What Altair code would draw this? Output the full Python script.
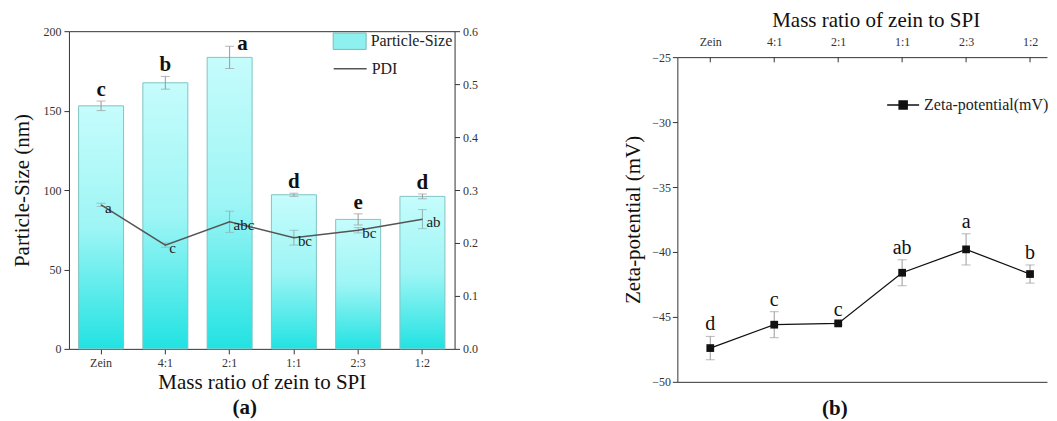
import altair as alt
import pandas as pd

categories = ["Zein", "4:1", "2:1", "1:1", "2:3", "1:2"]
particle_size = [153.0, 167.5, 183.5, 97.0, 81.5, 96.0]
particle_size_err = [3.0, 4.0, 7.0, 1.0, 3.5, 1.5]
size_letters = ["c", "b", "a", "d", "e", "d"]
pdi = [0.272, 0.196, 0.240, 0.210, 0.224, 0.245]
pdi_err = [0.003, 0.004, 0.020, 0.014, 0.005, 0.018]
pdi_letters = ["a", "c", "abc", "bc", "bc", "ab"]
zeta = [-47.4, -45.6, -45.5, -41.6, -39.8, -41.7]
zeta_err = [0.9, 1.0, 0.1, 1.0, 1.2, 0.7]
zeta_letters = ["d", "c", "c", "ab", "a", "b"]

FONT = "Liberation Serif"
AX = "#333333"

df = pd.DataFrame({
    "cat": categories,
    "size": particle_size,
    "size_lo": [v - e for v, e in zip(particle_size, particle_size_err)],
    "size_hi": [v + e for v, e in zip(particle_size, particle_size_err)],
    "size_letter": size_letters,
    "pdi": pdi,
    "pdi_lo": [v - e for v, e in zip(pdi, pdi_err)],
    "pdi_hi": [v + e for v, e in zip(pdi, pdi_err)],
    "pdi_letter": pdi_letters,
    "zeta": zeta,
    "zeta_lo": [v - e for v, e in zip(zeta, zeta_err)],
    "zeta_hi": [v + e for v, e in zip(zeta, zeta_err)],
    "zeta_letter": zeta_letters,
    "ps_series": ["Particle-Size"] * len(categories),
    "pdi_series": ["PDI"] * len(categories),
    "z_series": ["Zeta-potential(mV)"] * len(categories),
})

base = alt.Chart(df)

# ---------------- panel (a) ----------------
ysc_a = alt.Scale(domain=[0, 200], nice=False, zero=False)
ysc_pdi = alt.Scale(domain=[0, 0.6], nice=False, zero=False)

xa = alt.X("cat:N", sort=categories,
           scale=alt.Scale(paddingInner=0.3, paddingOuter=0.15),
           axis=alt.Axis(orient="bottom", title="Mass ratio of zein to SPI", labelAngle=0,
                         labelFontSize=12, titleFontSize=21, tickSize=5, labelPadding=4,
                         titlePadding=3))
xa_plain = alt.X("cat:N", sort=categories)

ya = alt.Y("size:Q", scale=ysc_a,
           axis=alt.Axis(title="Particle-Size (nm)", titleFontSize=21, labelFontSize=12,
                         values=[0, 25, 50, 75, 100, 125, 150, 175, 200],
                         labelExpr="datum.value % 50 == 0 ? datum.label : ''",
                         tickSize={"condition": {"test": "datum.value % 50 == 0", "value": 5}, "value": 3},
                         labelPadding=3, titlePadding=10))

bar_solid = base.mark_bar().encode(
    x=xa, y=ya,
    fill=alt.Fill("ps_series:N", scale=alt.Scale(range=["#8ff0f0"]),
                  legend=alt.Legend(title=None, orient="none", legendX=264, legendY=-7,
                                    symbolType="M-1,-0.5L1,-0.5L1,0.5L-1,0.5Z", symbolSize=1089,
                                    symbolStrokeColor="#7fb8b8", symbolStrokeWidth=1,
                                    labelFont=FONT, labelFontSize=16, labelColor="#222",
                                    labelOffset=4, padding=0)),
)
bar_grad = base.mark_bar(
    fill=alt.Gradient(gradient="linear",
                      stops=[alt.GradientStop(color="#c6fcfc", offset=0),
                             alt.GradientStop(color="#9ef5f5", offset=0.5),
                             alt.GradientStop(color="#22e2e2", offset=1)],
                      x1=0, x2=0, y1=0, y2=1),
    stroke="#86c4c4", strokeWidth=1,
).encode(x=xa_plain, y=alt.Y("size:Q", scale=ysc_a))
bar_err = base.mark_rule(color="#9a9a9a", strokeWidth=1).encode(
    x=xa_plain, y=alt.Y("size_lo:Q", scale=ysc_a), y2="size_hi:Q")
bar_cap_lo = base.mark_tick(color="#9a9a9a", size=9, thickness=1).encode(
    x=xa_plain, y=alt.Y("size_lo:Q", scale=ysc_a))
bar_cap_hi = base.mark_tick(color="#9a9a9a", size=9, thickness=1).encode(
    x=xa_plain, y=alt.Y("size_hi:Q", scale=ysc_a))
bar_text = base.transform_filter("datum.size_hi <= 185").mark_text(
    font=FONT, fontSize=21, fontWeight="bold", baseline="alphabetic", dy=-5, color="#111"
).encode(x=xa_plain, y=alt.Y("size_hi:Q", scale=ysc_a), text="size_letter:N")
bar_text_top = base.transform_filter("datum.size_hi > 185").mark_text(
    font=FONT, fontSize=21, fontWeight="bold", baseline="alphabetic", dx=13, dy=4, color="#111"
).encode(x=xa_plain, y=alt.Y("size_hi:Q", scale=ysc_a), text="size_letter:N")

left_a = alt.layer(bar_solid, bar_grad, bar_err, bar_cap_lo, bar_cap_hi, bar_text, bar_text_top)

xa_top = alt.X("cat:N", sort=categories,
               axis=alt.Axis(orient="top", title="", labels=False, ticks=False))
ya2 = alt.Y("pdi:Q", scale=ysc_pdi,
            axis=alt.Axis(orient="right", title="", labelFontSize=12,
                          values=[0, 0.05, 0.1, 0.15, 0.2, 0.25, 0.3, 0.35, 0.4, 0.45, 0.5, 0.55, 0.6],
                          labelExpr="round(datum.value*100) % 10 == 0 ? format(datum.value, '.1f') : ''",
                          tickSize={"condition": {"test": "round(datum.value*100) % 10 == 0", "value": 5}, "value": 3},
                          labelPadding=3))

pdi_err_rule = base.mark_rule(color="#8fb0b4", strokeWidth=1).encode(
    x=xa_top, y=alt.Y("pdi_lo:Q", scale=ysc_pdi), y2="pdi_hi:Q")
pdi_cap_lo = base.mark_tick(color="#8fb0b4", size=9, thickness=1).encode(
    x=xa_plain, y=alt.Y("pdi_lo:Q", scale=ysc_pdi))
pdi_cap_hi = base.mark_tick(color="#8fb0b4", size=9, thickness=1).encode(
    x=xa_plain, y=alt.Y("pdi_hi:Q", scale=ysc_pdi))
pdi_line = base.mark_line(strokeWidth=1.5).encode(
    x=xa_plain, y=ya2,
    stroke=alt.Stroke("pdi_series:N", scale=alt.Scale(range=["#555555"]),
                      legend=alt.Legend(title=None, orient="none", legendX=264, legendY=20,
                                        symbolType="stroke", symbolSize=1089, symbolStrokeWidth=1.5,
                                        labelFont=FONT, labelFontSize=16, labelColor="#222",
                                        labelOffset=4, padding=0)),
)
pdi_text = base.mark_text(font=FONT, fontSize=15, align="left", baseline="middle",
                          dx=4, dy=3, color="#222").encode(
    x=xa_plain, y=alt.Y("pdi:Q", scale=ysc_pdi), text="pdi_letter:N")

right_a = alt.layer(pdi_err_rule, pdi_cap_lo, pdi_cap_hi, pdi_line, pdi_text)

panel_a = alt.layer(left_a, right_a).resolve_scale(y="independent").resolve_axis(
    x="independent").properties(
    width=386, height=318,
    title=alt.TitleParams("(a)", orient="bottom", fontSize=21, fontWeight="bold", font=FONT,
                          frame="bounds", offset=4, color="#111"))

# ---------------- panel (b) ----------------
ysc_b = alt.Scale(domain=[-50, -25], nice=False, zero=False)
xb = alt.X("cat:N", sort=categories,
           scale=alt.Scale(type="point", padding=0.39, align=0.66),
           axis=alt.Axis(orient="top", title="", labelAngle=0,
                         labelFontSize=12, ticks=False, labelPadding=9))
xb_plain = alt.X("cat:N", sort=categories)
xb_bottom = alt.X("cat:N", sort=categories,
                  axis=alt.Axis(orient="bottom", title="", labels=False, ticks=False))
yb = alt.Y("zeta:Q", scale=ysc_b,
           axis=alt.Axis(title="Zeta-potential (mV)", titleFontSize=21, labelFontSize=12,
                         values=[-50, -47.5, -45, -42.5, -40, -37.5, -35, -32.5, -30, -27.5, -25],
                         labelExpr="datum.value % 5 == 0 ? datum.label : ''",
                         tickSize={"condition": {"test": "datum.value % 5 == 0", "value": 5}, "value": 3},
                         labelPadding=2, titlePadding=8))

top_ticks = base.mark_rule(color=AX, strokeWidth=1).encode(
    x=xb, y=alt.datum(-25, scale=ysc_b), y2=alt.datum(-25.4))
z_err = base.mark_rule(color="#9a9a9a", strokeWidth=1).encode(
    x=xb_plain, y=alt.Y("zeta_lo:Q", scale=ysc_b), y2="zeta_hi:Q")
z_cap_lo = base.mark_tick(color="#9a9a9a", size=9, thickness=1).encode(
    x=xb_plain, y=alt.Y("zeta_lo:Q", scale=ysc_b))
z_cap_hi = base.mark_tick(color="#9a9a9a", size=9, thickness=1).encode(
    x=xb_plain, y=alt.Y("zeta_hi:Q", scale=ysc_b))
z_line = base.mark_line(strokeWidth=1.3).encode(
    x=xb_plain, y=yb,
    stroke=alt.Stroke("z_series:N", scale=alt.Scale(range=["#111111"]),
                      legend=alt.Legend(title=None, orient="none", legendX=209, legendY=57,
                                        symbolType="M-1,0L1,0M-0.25,-0.25L0.25,-0.25L0.25,0.25L-0.25,0.25Z",
                                        symbolSize=1024, symbolStrokeWidth=1.5,
                                        symbolFillColor="#111111",
                                        labelFont=FONT, labelFontSize=16, labelColor="#222",
                                        labelOffset=4, padding=0)),
)
z_text = base.mark_text(font=FONT, fontSize=20, baseline="alphabetic", dy=-6,
                        color="#111").encode(x=xb_plain, y=alt.Y("zeta_hi:Q", scale=ysc_b),
                                             text="zeta_letter:N")
z_main = alt.layer(top_ticks, z_err, z_cap_lo, z_cap_hi, z_line, z_text)
z_points = base.mark_point(shape="square", filled=True, size=60, color="#111111",
                           opacity=1).encode(x=xb_bottom, y=alt.Y("zeta:Q", scale=ysc_b))

panel_b = alt.layer(z_main, z_points).resolve_axis(x="independent").properties(
    width=370, height=325,
    title=alt.TitleParams("(b)", orient="bottom", fontSize=21, fontWeight="bold", font=FONT,
                          frame="bounds", offset=10, color="#111"))

# spacer row that carries the top x-axis title of panel (b)
b_head = alt.Chart(pd.DataFrame({"v": [0]})).mark_point(opacity=0, size=1).properties(
    width=370, height=1,
    title=alt.TitleParams("Mass ratio of zein to SPI", orient="top", fontSize=21,
                          fontWeight="normal", font=FONT, offset=0, dx=14, color="#111"))

col_b = alt.vconcat(b_head, panel_b, spacing=3)

chart = alt.hconcat(panel_a, col_b, spacing=145).resolve_scale(
    fill="independent", stroke="independent").properties(
    padding={"left": 4, "top": 2, "right": 0, "bottom": 0}
).configure_view(stroke=None).configure_axis(
    domainColor=AX, tickColor=AX, labelColor="#333", titleColor="#111",
    labelFont=FONT, titleFont=FONT, titleFontWeight="normal", grid=False
)

chart.save("out.html", embed_options={"renderer": "svg", "actions": False})
